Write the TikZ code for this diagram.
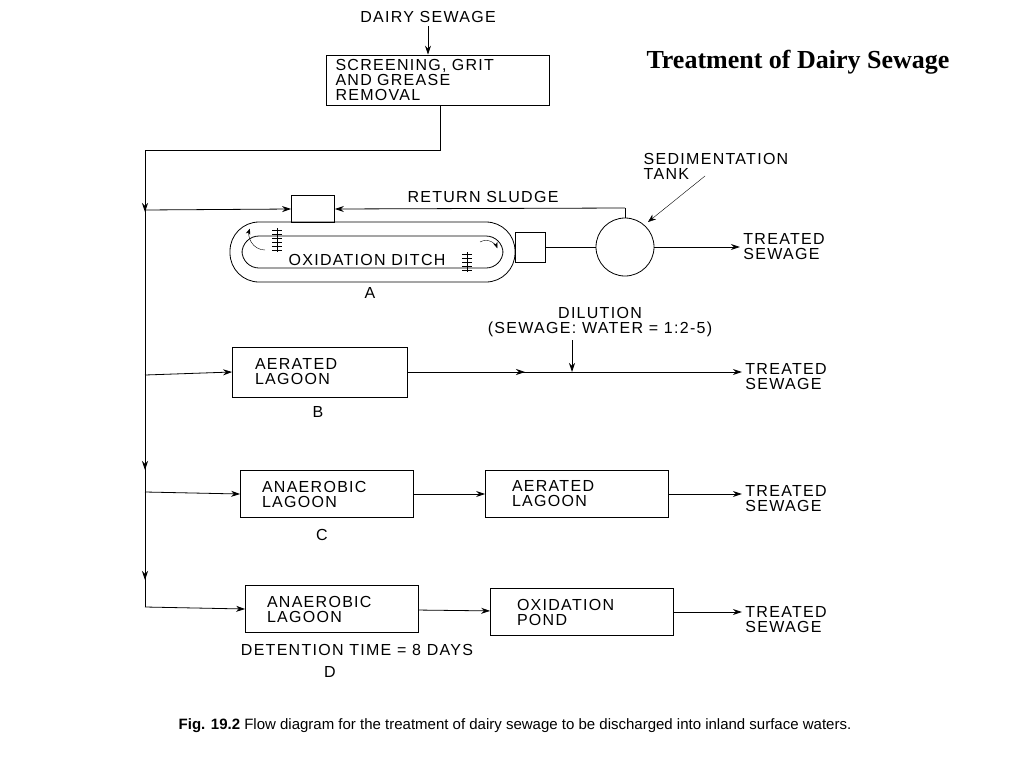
\documentclass[tikz,border=0pt]{standalone}
\usepackage{fontspec}
\setmainfont{Liberation Serif}
\newfontfamily\drawfont[LetterSpace=8]{Liberation Sans}
\newfontfamily\capfont{Liberation Sans}
\usetikzlibrary{positioning,arrows.meta}
\tikzset{
	unit/.style={draw, thick, align=left, inner sep=0pt},
	lbl/.style={font=\drawfont\fontsize{16}{15}\selectfont, align=left},
	flow/.style={thick, -{Stealth[length=9pt,width=6pt]}},
}
\begin{document}
\begin{tikzpicture}[x=1pt, y=-1pt]
	\useasboundingbox (0,0) rectangle (1024,768);
	\node [font=\bfseries\fontsize{26}{28}\selectfont] (title) at (798,62) {Treatment of Dairy Sewage};
	
	% inlet
	\node [lbl] (inlet) at (428,17) {DAIRY SEWAGE};
	\node [unit, lbl, minimum width=223pt, minimum height=50pt, text width=205pt] (screen) at (438,80) {SCREENING, GRIT\\AND GREASE\\REMOVAL};
	\draw [flow] (inlet.south) -- (inlet.south |- screen.north);
	\coordinate (t0) at (440,150);
	\coordinate (t1) at (145,150);
	\coordinate (t2) at (145,607);
	\draw [thick] (screen.south -| t0) -- (t0) -- (t1) -- (t2);
	\draw [flow] (145,180) -- (145,212);
	\draw [flow] (145,430) -- (145,470);
	\draw [flow] (145,540) -- (145,580);
	
	% A: oxidation ditch
	\node [unit, minimum width=43pt, minimum height=27pt] (feed) at (313,209) {};
	\draw [flow] (145,210) -- (feed.west);
	\draw [thick, rounded corners=29pt] (230,222) rectangle (515,282);
	\draw [thick, rounded corners=17pt] (242,236) rectangle (503,268);
	\draw [thick] (feed.south) -- (313,222);
	\node [lbl] (ditch) at (367,260) {OXIDATION DITCH};
	\foreach \y in {230,234,...,250} \draw (272,\y) -- (282,\y);
	\draw (277,228) -- (277,252);
	\foreach \y in {254,258,...,270} \draw (462,\y) -- (472,\y);
	\draw (467,252) -- (467,272);
	\draw [-{Stealth[length=6pt]}] (265,250) arc (90:200:16);
	\draw [-{Stealth[length=6pt]}] (480,242) arc (-120:-20:12);
	\node [unit, minimum width=30pt, minimum height=30pt] (outbox) at (530,247) {};
	\node [draw, thick, circle, minimum size=58pt, inner sep=0pt] (tank) at (625,247) {};
	\draw [thick] (outbox.east) -- (tank.west);
	\coordinate (ret) at (625,208);
	\draw [thick] (tank.north) -- (ret);
	\draw [flow] (ret) -- (feed.east);
	\node [lbl] (sludge) at (483,197) {RETURN SLUDGE};
	\node [lbl] (sedi) at (716,166) {SEDIMENTATION\\TANK};
	\draw [-{Stealth[length=8pt]}] (705,176) -- (648,222);
	\node [lbl] (outA) at (784,247) {TREATED\\SEWAGE};
	\draw [flow] (tank.east) -- (outA.west);
	\node [lbl] (labA) at (370,293) {A};
	
	% B: aerated lagoon
	\node [unit, lbl, minimum width=175pt, minimum height=50pt, text width=130pt] (lagB) at (320,372) {AERATED\\LAGOON};
	\draw [flow] (145,375) -- (lagB.west);
	\node [lbl] (outB) at (786,377) {TREATED\\SEWAGE};
	\draw [flow] (lagB.east) -- (outB.west |- lagB.east);
	\draw [flow] (lagB.east) -- (525,372);
	\node [lbl, align=center] (dil) at (600,322) {DILUTION\\(SEWAGE: WATER = 1:2-5)};
	\draw [flow] (572,340) -- (572,372);
	\node [lbl] (labB) at (318,412) {B};
	
	% C: anaerobic + aerated lagoon
	\node [unit, lbl, minimum width=173pt, minimum height=47pt, text width=130pt] (anaC) at (327,494) {ANAEROBIC\\LAGOON};
	\node [unit, lbl, minimum width=183pt, minimum height=47pt, text width=130pt] (aerC) at (577,494) {AERATED\\LAGOON};
	\draw [flow] (145,492) -- (anaC.west);
	\draw [flow] (anaC) -- (aerC);
	\node [lbl] (outC) at (786,499) {TREATED\\SEWAGE};
	\draw [flow] (aerC.east) -- (outC.west |- aerC.east);
	\node [lbl] (labC) at (322,535) {C};
	
	% D: anaerobic lagoon + oxidation pond
	\node [unit, lbl, minimum width=173pt, minimum height=47pt, text width=130pt] (anaD) at (332,609) {ANAEROBIC\\LAGOON};
	\node [unit, lbl, minimum width=183pt, minimum height=47pt, text width=130pt] (pondD) at (582,612) {OXIDATION\\POND};
	\draw [flow] (145,607) -- (anaD.west);
	\draw [flow] (anaD) -- (pondD);
	\node [lbl] (outD) at (786,620) {TREATED\\SEWAGE};
	\draw [flow] (pondD.east) -- (outD.west |- pondD.east);
	\node [lbl] (det) at (357,650) {DETENTION TIME = 8 DAYS};
	\node [lbl] (labD) at (330,672) {D};
	
	\node [font=\capfont\fontsize{15}{15}\selectfont] (cap) at (515,726) {\textbf{Fig. 19.2} Flow diagram for the treatment of dairy sewage to be discharged into inland surface waters.};
\end{tikzpicture}
\end{document}
